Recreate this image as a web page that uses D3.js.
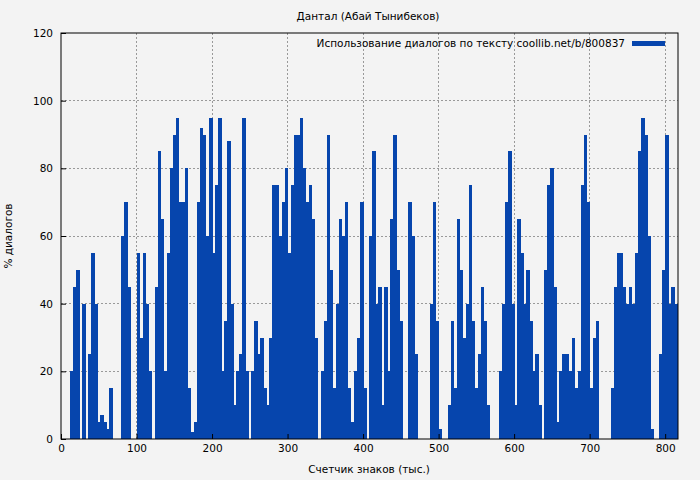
<!DOCTYPE html>
<html>
<head>
<meta charset="utf-8">
<script src="https://cdn.jsdelivr.net/npm/d3@7"></script>
<style>
  body { margin: 0; background: #f3f3f3; }
  text { font-family: "DejaVu Sans", sans-serif; font-size: 10.5px; fill: #000; }
</style>
</head>
<body>
<svg id="chart" width="700" height="480"></svg>
<script>
// bins of 4 thousand chars, value = % dialogues
const binWidth = 4;
const values = [
  0,0,0,20,45,50,0,40,0,25,55,40,5,7,5,3,15,0,0,0,60,70,45,0,0,55,30,55,40,20,
  0,45,85,65,20,55,80,90,95,70,70,80,15,2,5,70,92,90,60,95,55,75,95,20,35,88,40,10,20,25,
  95,20,0,20,35,25,30,15,10,30,75,75,60,70,80,55,75,90,90,95,80,70,75,65,30,0,20,35,90,50,
  15,40,65,60,70,15,5,20,30,70,15,0,60,85,40,45,10,45,20,65,90,50,35,0,0,70,60,25,0,0,
  0,0,40,70,35,3,0,0,10,35,15,65,50,30,40,75,35,15,25,45,35,10,0,0,0,20,40,70,85,40,
  10,65,55,40,50,35,20,25,10,0,50,75,80,45,5,20,25,25,20,30,15,20,75,90,70,15,30,35,0,0,
  0,0,15,45,55,55,45,40,45,40,55,85,95,90,60,3,0,0,25,50,90,40,45,40
];
const xTicks = [0,100,200,300,400,500,600,700,800];
const yTicks = [0,20,40,60,80,100,120];
const title = "Дантал (Абай Тынибеков)";
const legendLabel = "Использование диалогов по тексту coollib.net/b/800837";

const svg = d3.select("#chart");
const margin = { top: 33, right: 22, bottom: 41, left: 61 };
const width = 700, height = 480;
const color = "#0645ad";

const x = d3.scaleLinear().domain([0, 817]).range([margin.left, width - margin.right]);
const y = d3.scaleLinear().domain([0, 120]).range([height - margin.bottom, margin.top]);

// grid
svg.append("g").selectAll("line").data(xTicks.slice(1)).enter().append("line")
  .attr("x1", d => x(d)).attr("x2", d => x(d))
  .attr("y1", y(0)).attr("y2", y(120))
  .attr("stroke", "#999").attr("stroke-dasharray", "2,2")
  .attr("shape-rendering", "crispEdges");
svg.append("g").selectAll("line").data(yTicks.slice(1, -1)).enter().append("line")
  .attr("x1", x(0)).attr("x2", x(817))
  .attr("y1", d => y(d)).attr("y2", d => y(d))
  .attr("stroke", "#999").attr("stroke-dasharray", "2,2")
  .attr("shape-rendering", "crispEdges");

// bars
svg.append("g").attr("shape-rendering", "crispEdges")
  .selectAll("rect").data(values).enter().append("rect")
  .attr("x", (d, i) => x(i * binWidth))
  .attr("width", (d, i) => x(Math.min((i + 1) * binWidth, 817)) - x(i * binWidth) + 0.5)
  .attr("y", d => y(d))
  .attr("height", d => y(0) - y(d))
  .attr("fill", color);

// axes
svg.append("g")
  .attr("transform", `translate(0, ${y(0)})`)
  .call(d3.axisBottom(x).tickValues(xTicks).tickSize(-5).tickPadding(6))
  .call(g => g.select(".domain").remove());
svg.append("g")
  .attr("transform", `translate(${x(0)}, 0)`)
  .call(d3.axisLeft(y).tickValues(yTicks).tickSize(-5).tickPadding(8))
  .call(g => g.select(".domain").remove());
svg.selectAll(".tick text").style("font-size", "10.5px").style("font-family", "DejaVu Sans");

svg.append("rect")
  .attr("x", x(0)).attr("y", y(120))
  .attr("width", x(817) - x(0)).attr("height", y(0) - y(120))
  .attr("fill", "none").attr("stroke", "#000");

// titles
svg.append("text").attr("x", 368).attr("y", 20).attr("text-anchor", "middle").text(title);
svg.append("text").attr("x", 369).attr("y", 473).attr("text-anchor", "middle").text("Счетчик знаков (тыс.)");
svg.append("text").attr("transform", `translate(12, ${(y(0) + y(120)) / 2}) rotate(-90)`)
  .attr("text-anchor", "middle").text("% диалогов");

// legend
svg.append("text").attr("x", 625).attr("y", 47).attr("text-anchor", "end").text(legendLabel);
svg.append("rect").attr("x", 632).attr("y", 41).attr("width", 33).attr("height", 5).attr("fill", color);
</script>
</body>
</html>
